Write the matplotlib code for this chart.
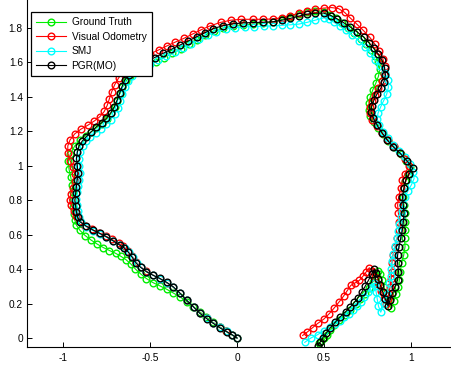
import matplotlib
matplotlib.use("Agg")
import matplotlib.pyplot as plt

plt.rcParams["font.family"] = ["Liberation Sans", "DejaVu Sans"]
plt.rcParams["axes.unicode_minus"] = False

# Ground Truth trajectory
gt_x = [0.000, -0.030, -0.062, -0.100, -0.140, -0.178, -0.215, -0.252, -0.290, -0.330,
        -0.368, -0.405, -0.445, -0.485, -0.522, -0.555, -0.585, -0.612, -0.640, -0.670,
        -0.700, -0.735, -0.770, -0.805, -0.840, -0.875, -0.905, -0.925, -0.935, -0.940,
        -0.945, -0.945, -0.945, -0.950, -0.958, -0.968, -0.972, -0.960, -0.935, -0.905,
        -0.872, -0.840, -0.810, -0.780, -0.750, -0.725, -0.705, -0.690, -0.675, -0.660,
        -0.640, -0.615, -0.585, -0.550, -0.510, -0.465, -0.420, -0.372, -0.325, -0.278,
        -0.230, -0.183, -0.135, -0.080, -0.021, 0.035, 0.094, 0.150, 0.210, 0.260,
        0.306, 0.355, 0.403, 0.450, 0.499, 0.535, 0.568, 0.603, 0.638, 0.675,
        0.712, 0.745, 0.772, 0.797, 0.815, 0.822, 0.815, 0.800, 0.782, 0.768,
        0.760, 0.758, 0.768, 0.788, 0.812, 0.840, 0.870, 0.905, 0.942, 0.975,
        0.998, 0.985, 0.970, 0.962, 0.958, 0.962, 0.968, 0.968, 0.965, 0.965,
        0.968, 0.960, 0.948, 0.940, 0.935, 0.930, 0.918, 0.902, 0.885, 0.872,
        0.860, 0.848, 0.836, 0.825, 0.815, 0.800, 0.782, 0.760, 0.735, 0.710,
        0.683, 0.653, 0.620, 0.588, 0.560, 0.538, 0.518, 0.500, 0.485, 0.470]
gt_y = [0.000, 0.018, 0.038, 0.065, 0.092, 0.122, 0.152, 0.182, 0.212, 0.240,
        0.262, 0.283, 0.303, 0.322, 0.345, 0.372, 0.400, 0.430, 0.455, 0.475,
        0.492, 0.508, 0.525, 0.545, 0.568, 0.595, 0.625, 0.655, 0.685, 0.720,
        0.760, 0.800, 0.845, 0.890, 0.935, 0.980, 1.025, 1.070, 1.115, 1.150,
        1.175, 1.197, 1.220, 1.245, 1.272, 1.305, 1.340, 1.378, 1.418, 1.455,
        1.490, 1.518, 1.542, 1.563, 1.585, 1.605, 1.628, 1.652, 1.678, 1.705,
        1.732, 1.758, 1.782, 1.800, 1.812, 1.818, 1.822, 1.826, 1.835, 1.850,
        1.866, 1.882, 1.895, 1.900, 1.895, 1.877, 1.855, 1.828, 1.800, 1.770,
        1.738, 1.705, 1.670, 1.635, 1.600, 1.560, 1.520, 1.480, 1.440, 1.400,
        1.362, 1.325, 1.290, 1.255, 1.220, 1.182, 1.145, 1.108, 1.070, 1.030,
        0.990, 0.950, 0.912, 0.868, 0.820, 0.772, 0.724, 0.675, 0.627, 0.578,
        0.530, 0.480, 0.433, 0.385, 0.337, 0.298, 0.255, 0.215, 0.175, 0.215,
        0.255, 0.295, 0.335, 0.370, 0.392, 0.360, 0.325, 0.290, 0.255, 0.225,
        0.195, 0.165, 0.135, 0.105, 0.075, 0.046, 0.020, -0.002, -0.018, -0.030]

# Visual Odometry trajectory
vo_x = [0.000, -0.030, -0.062, -0.100, -0.137, -0.175, -0.212, -0.250, -0.290, -0.330,
        -0.368, -0.405, -0.445, -0.485, -0.522, -0.555, -0.580, -0.605, -0.630, -0.655,
        -0.682, -0.720, -0.757, -0.795, -0.835, -0.875, -0.905, -0.925, -0.940, -0.955,
        -0.965, -0.958, -0.945, -0.935, -0.935, -0.945, -0.962, -0.975, -0.975, -0.962,
        -0.935, -0.900, -0.860, -0.822, -0.790, -0.765, -0.748, -0.735, -0.722, -0.705,
        -0.682, -0.655, -0.622, -0.585, -0.545, -0.500, -0.452, -0.405, -0.355, -0.305,
        -0.255, -0.205, -0.155, -0.095, -0.035, 0.025, 0.090, 0.150, 0.210, 0.260,
        0.306, 0.355, 0.403, 0.450, 0.499, 0.545, 0.585, 0.620, 0.652, 0.690,
        0.728, 0.765, 0.795, 0.820, 0.840, 0.850, 0.848, 0.835, 0.815, 0.795,
        0.778, 0.765, 0.765, 0.780, 0.805, 0.835, 0.868, 0.902, 0.940, 0.970,
        0.992, 0.968, 0.952, 0.942, 0.932, 0.925, 0.930, 0.935, 0.932, 0.922,
        0.910, 0.898, 0.892, 0.890, 0.888, 0.882, 0.875, 0.868, 0.860, 0.845,
        0.828, 0.810, 0.793, 0.777, 0.762, 0.745, 0.728, 0.705, 0.680, 0.655,
        0.635, 0.615, 0.590, 0.560, 0.530, 0.500, 0.465, 0.435, 0.405, 0.378]
vo_y = [0.000, 0.020, 0.040, 0.063, 0.088, 0.115, 0.145, 0.180, 0.220, 0.260,
        0.295, 0.320, 0.345, 0.366, 0.388, 0.413, 0.440, 0.475, 0.508, 0.532,
        0.550, 0.572, 0.592, 0.610, 0.630, 0.652, 0.680, 0.710, 0.740, 0.770,
        0.800, 0.835, 0.870, 0.910, 0.950, 0.990, 1.030, 1.075, 1.115, 1.150,
        1.185, 1.212, 1.235, 1.260, 1.285, 1.315, 1.350, 1.390, 1.430, 1.470,
        1.510, 1.545, 1.578, 1.605, 1.628, 1.650, 1.672, 1.695, 1.718, 1.740,
        1.765, 1.790, 1.812, 1.832, 1.845, 1.850, 1.850, 1.850, 1.852, 1.860,
        1.872, 1.885, 1.897, 1.908, 1.915, 1.918, 1.912, 1.890, 1.858, 1.822,
        1.785, 1.745, 1.705, 1.665, 1.622, 1.578, 1.532, 1.490, 1.450, 1.412,
        1.375, 1.340, 1.305, 1.268, 1.230, 1.190, 1.150, 1.112, 1.075, 1.038,
        1.000, 0.955, 0.915, 0.870, 0.820, 0.772, 0.724, 0.675, 0.627, 0.578,
        0.530, 0.480, 0.433, 0.385, 0.340, 0.298, 0.258, 0.225, 0.200, 0.235,
        0.275, 0.315, 0.355, 0.390, 0.408, 0.385, 0.362, 0.335, 0.320, 0.305,
        0.275, 0.245, 0.212, 0.175, 0.140, 0.110, 0.085, 0.060, 0.035, 0.015]

# SMJ trajectory
smj_x = [0.000, -0.030, -0.060, -0.100, -0.137, -0.175, -0.214, -0.250, -0.290, -0.330,
         -0.368, -0.405, -0.445, -0.485, -0.522, -0.553, -0.578, -0.602, -0.625, -0.648,
         -0.675, -0.713, -0.752, -0.790, -0.830, -0.868, -0.900, -0.912, -0.918, -0.922,
         -0.925, -0.920, -0.915, -0.910, -0.905, -0.908, -0.912, -0.905, -0.890, -0.870,
         -0.845, -0.815, -0.785, -0.755, -0.728, -0.705, -0.688, -0.673, -0.660, -0.645,
         -0.628, -0.605, -0.578, -0.542, -0.500, -0.455, -0.408, -0.360, -0.312, -0.265,
         -0.218, -0.170, -0.120, -0.065, -0.010, 0.045, 0.100, 0.155, 0.210, 0.260,
         0.306, 0.355, 0.403, 0.450, 0.499, 0.530, 0.560, 0.593, 0.628, 0.665,
         0.702, 0.738, 0.768, 0.795, 0.825, 0.852, 0.868, 0.872, 0.862, 0.845,
         0.828, 0.812, 0.808, 0.820, 0.842, 0.868, 0.898, 0.932, 0.965, 0.995,
         1.015, 1.020, 1.005, 0.985, 0.965, 0.955, 0.948, 0.942, 0.935, 0.930,
         0.922, 0.910, 0.900, 0.892, 0.888, 0.885, 0.878, 0.862, 0.845, 0.828,
         0.815, 0.808, 0.802, 0.795, 0.787, 0.770, 0.752, 0.733, 0.712, 0.692,
         0.668, 0.643, 0.618, 0.592, 0.565, 0.535, 0.500, 0.465, 0.425, 0.390]
smj_y = [0.000, 0.020, 0.038, 0.062, 0.087, 0.115, 0.145, 0.180, 0.220, 0.260,
         0.296, 0.322, 0.345, 0.365, 0.385, 0.410, 0.435, 0.470, 0.500, 0.523,
         0.540, 0.563, 0.585, 0.604, 0.624, 0.646, 0.672, 0.700, 0.735, 0.770,
         0.805, 0.845, 0.882, 0.920, 0.960, 1.000, 1.040, 1.078, 1.112, 1.142,
         1.168, 1.192, 1.215, 1.240, 1.268, 1.300, 1.338, 1.378, 1.418, 1.455,
         1.490, 1.520, 1.545, 1.568, 1.590, 1.612, 1.635, 1.658, 1.682, 1.708,
         1.733, 1.757, 1.778, 1.793, 1.802, 1.806, 1.808, 1.810, 1.812, 1.815,
         1.818, 1.822, 1.832, 1.845, 1.858, 1.850, 1.832, 1.810, 1.785, 1.757,
         1.725, 1.690, 1.652, 1.615, 1.578, 1.540, 1.498, 1.455, 1.415, 1.378,
         1.343, 1.305, 1.270, 1.235, 1.198, 1.160, 1.122, 1.085, 1.048, 1.008,
         0.965, 0.925, 0.890, 0.855, 0.818, 0.778, 0.738, 0.700, 0.660, 0.620,
         0.578, 0.535, 0.490, 0.445, 0.400, 0.360, 0.320, 0.255, 0.195, 0.150,
         0.185, 0.225, 0.265, 0.300, 0.318, 0.292, 0.265, 0.240, 0.212, 0.185,
         0.160, 0.140, 0.120, 0.100, 0.082, 0.062, 0.042, 0.020, 0.000, -0.025]

# PGR(MO) trajectory
pgr_x = [0.000, -0.030, -0.060, -0.100, -0.137, -0.175, -0.214, -0.250, -0.291, -0.330,
         -0.368, -0.405, -0.445, -0.485, -0.522, -0.555, -0.580, -0.605, -0.628, -0.650,
         -0.676, -0.715, -0.753, -0.790, -0.830, -0.870, -0.905, -0.918, -0.925, -0.930,
         -0.934, -0.930, -0.926, -0.921, -0.917, -0.920, -0.925, -0.920, -0.910, -0.892,
         -0.869, -0.840, -0.811, -0.780, -0.753, -0.727, -0.707, -0.691, -0.677, -0.662,
         -0.647, -0.625, -0.598, -0.560, -0.522, -0.475, -0.426, -0.378, -0.330, -0.281,
         -0.233, -0.185, -0.137, -0.080, -0.021, 0.035, 0.094, 0.150, 0.210, 0.260,
         0.306, 0.355, 0.403, 0.450, 0.499, 0.540, 0.576, 0.615, 0.653, 0.690,
         0.730, 0.760, 0.788, 0.815, 0.836, 0.850, 0.855, 0.846, 0.828, 0.806,
         0.789, 0.776, 0.772, 0.786, 0.807, 0.835, 0.865, 0.900, 0.940, 0.978,
         1.012, 0.990, 0.972, 0.961, 0.953, 0.958, 0.962, 0.958, 0.952, 0.943,
         0.933, 0.925, 0.925, 0.930, 0.925, 0.910, 0.895, 0.882, 0.870, 0.855,
         0.840, 0.826, 0.812, 0.800, 0.790, 0.775, 0.757, 0.738, 0.718, 0.698,
         0.676, 0.652, 0.625, 0.595, 0.566, 0.538, 0.515, 0.495, 0.478, 0.465]
pgr_y = [0.000, 0.020, 0.037, 0.060, 0.085, 0.113, 0.143, 0.180, 0.220, 0.262,
         0.298, 0.323, 0.346, 0.365, 0.385, 0.410, 0.433, 0.470, 0.500, 0.523,
         0.540, 0.565, 0.588, 0.607, 0.627, 0.650, 0.675, 0.700, 0.730, 0.765,
         0.800, 0.840, 0.878, 0.917, 0.956, 1.000, 1.045, 1.080, 1.115, 1.143,
         1.168, 1.197, 1.226, 1.250, 1.275, 1.308, 1.343, 1.380, 1.420, 1.460,
         1.497, 1.527, 1.555, 1.580, 1.604, 1.628, 1.652, 1.676, 1.700, 1.725,
         1.749, 1.773, 1.796, 1.813, 1.824, 1.829, 1.831, 1.833, 1.836, 1.845,
         1.855, 1.868, 1.880, 1.885, 1.886, 1.872, 1.853, 1.830, 1.805, 1.778,
         1.747, 1.714, 1.681, 1.647, 1.612, 1.570, 1.526, 1.487, 1.449, 1.415,
         1.381, 1.347, 1.313, 1.275, 1.236, 1.192, 1.150, 1.110, 1.072, 1.030,
         0.985, 0.950, 0.915, 0.868, 0.820, 0.772, 0.724, 0.675, 0.627, 0.578,
         0.530, 0.480, 0.433, 0.385, 0.337, 0.298, 0.259, 0.222, 0.185, 0.225,
         0.265, 0.305, 0.345, 0.380, 0.400, 0.370, 0.335, 0.300, 0.265, 0.235,
         0.207, 0.180, 0.152, 0.124, 0.092, 0.060, 0.030, 0.003, -0.025, -0.045]

series = [
    ("Ground Truth", gt_x, gt_y, "#00ee00"),
    ("Visual Odometry", vo_x, vo_y, "#ff0000"),
    ("SMJ", smj_x, smj_y, "#00ffff"),
    ("PGR(MO)", pgr_x, pgr_y, "#000000"),
]

x_ticks = [-1, -0.5, 0, 0.5, 1]
x_tick_labels = ["-1", "-0.5", "0", "0.5", "1"]
y_ticks = [0, 0.2, 0.4, 0.6, 0.8, 1.0, 1.2, 1.4, 1.6, 1.8]
y_tick_labels = ["0", "0.2", "0.4", "0.6", "0.8", "1", "1.2", "1.4", "1.6", "1.8"]

W, H = 452, 365
fig = plt.figure(figsize=(W / 100, H / 100), dpi=100)
ax = fig.add_axes([27 / W, 18 / H, (454 - 27) / W, 347 / H])

for label, xs, ys, color in series:
    ax.plot(xs, ys, "-o", color=color, markerfacecolor="none", markeredgecolor=color,
            markersize=4.8, markeredgewidth=1.0, linewidth=0.8, label=label)

ax.set_xlim(-1.21, 1.25)
ax.set_ylim(-0.052, 1.962)
ax.set_xticks(x_ticks)
ax.set_xticklabels(x_tick_labels)
ax.set_yticks(y_ticks)
ax.set_yticklabels(y_tick_labels)
ax.tick_params(direction="in", length=3.5, width=0.7, labelsize=7.3, colors="black")
ax.tick_params(axis="x", pad=4.5)
ax.tick_params(axis="y", pad=3)
for side in ("top", "right"):
    ax.spines[side].set_visible(False)
for side in ("left", "bottom"):
    ax.spines[side].set_linewidth(0.8)
    ax.spines[side].set_color("black")

leg = ax.legend(loc="upper left", bbox_to_anchor=(31 / W, 1 - 12 / H),
                bbox_transform=fig.transFigure, borderaxespad=0, fontsize=7.3,
                frameon=True, fancybox=False, framealpha=1, edgecolor="black",
                handlelength=3.0, handletextpad=0.5, labelspacing=0.45,
                borderpad=0.5)
leg.get_frame().set_linewidth(0.9)

fig.savefig("out.png", dpi=100)
